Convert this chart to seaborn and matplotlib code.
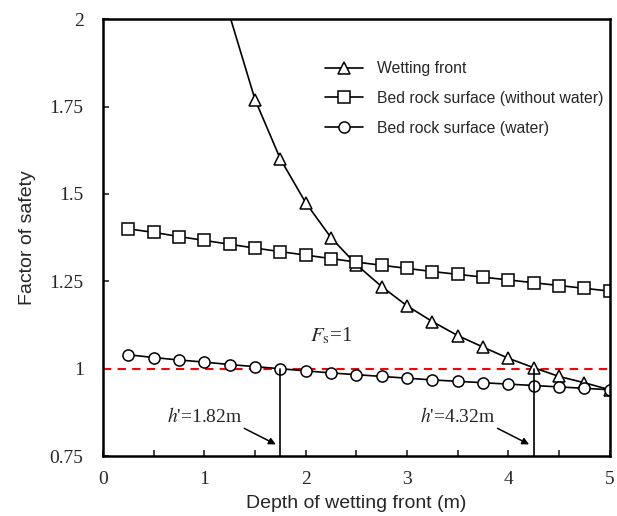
import numpy as np
import pandas as pd
import seaborn as sns
import matplotlib.pyplot as plt
from matplotlib.ticker import MultipleLocator

# depth of wetting front (m)
depth = [0.25, 0.5, 0.75, 1.0, 1.25, 1.5, 1.75, 2.0, 2.25, 2.5,
         2.75, 3.0, 3.25, 3.5, 3.75, 4.0, 4.25, 4.5, 4.75, 5.0]

# wetting front curve, the first point only continues the line above the axes
wet_depth = [1.25, 1.5, 1.75, 2.0, 2.25, 2.5, 2.75, 3.0, 3.25, 3.5,
             3.75, 4.0, 4.25, 4.5, 4.75, 5.0]
wet_fs = [2.01, 1.77, 1.60, 1.475, 1.375, 1.298, 1.235, 1.18, 1.135, 1.095,
          1.062, 1.03, 1.003, 0.978, 0.96, 0.94]

dry_fs = [1.40, 1.39, 1.378, 1.367, 1.356, 1.345, 1.335, 1.325, 1.315, 1.305,
          1.296, 1.287, 1.278, 1.27, 1.262, 1.254, 1.246, 1.238, 1.23, 1.222]

water_fs = [1.04, 1.032, 1.025, 1.019, 1.012, 1.006, 1.0, 0.994, 0.988, 0.983,
            0.978, 0.973, 0.968, 0.964, 0.96, 0.956, 0.952, 0.948, 0.944, 0.94]

crit_depth = [1.75, 4.25]
crit_text = ["1.82m", "4.32m"]

sns.set_style("white")
plt.rcParams['font.family'] = ['Liberation Sans', 'DejaVu Sans']
plt.rcParams['mathtext.fontset'] = 'stix'

fig = plt.figure(figsize=(6.17, 5.16), dpi=100)
ax = fig.add_axes([0.167, 0.116, 0.821, 0.847])

df_wet = pd.DataFrame({"depth": wet_depth, "fs": wet_fs})
df_dry = pd.DataFrame({"depth": depth, "fs": dry_fs})
df_water = pd.DataFrame({"depth": depth, "fs": water_fs})

style = dict(color="black", lw=1.2, ms=8, mfc="white", mec="black", mew=1.1)
sns.lineplot(data=df_wet, x="depth", y="fs", marker="^", ax=ax,
             markevery=list(range(1, len(wet_depth))),
             label="Wetting front", **style)
sns.lineplot(data=df_dry, x="depth", y="fs", marker="s", ax=ax,
             label="Bed rock surface (without water)", **style)
sns.lineplot(data=df_water, x="depth", y="fs", marker="o", ax=ax,
             label="Bed rock surface (water)", **style)

# Fs = 1 line
ax.axhline(1.0, color="red", ls=(0, (4, 3)), lw=1.5, zorder=1)

for d, t in zip(crit_depth, crit_text):
    ax.plot([d, d], [0.75, 1.0], color="black", lw=1.2)
    ax.annotate("", xy=(d - 0.02, 0.78), xytext=(d - 0.38, 0.833),
                arrowprops=dict(arrowstyle="-|>", color="black", lw=1.1,
                                mutation_scale=10))
    ax.text(d - 0.38, 0.864, r"$\mathit{h}$'=" + t, ha="right", va="center",
            fontsize=14, family="Liberation Serif")

ax.text(2.25, 1.093, r"$\mathit{F}_{\mathrm{s}}$=1", ha="center", va="center",
        fontsize=15, family="Liberation Serif")

ax.set_xlim(0, 5)
ax.set_ylim(0.75, 2)
ax.xaxis.set_major_locator(MultipleLocator(1))
ax.xaxis.set_minor_locator(MultipleLocator(0.5))
ax.set_yticks([0.75, 1, 1.25, 1.5, 1.75, 2])
ax.set_yticklabels(["0.75", "1", "1.25", "1.5", "1.75", "2"])
ax.tick_params(axis="both", which="both", direction="in", length=4, width=1.2,
               bottom=True, left=True, top=False, right=False, pad=14,
               labelsize=14)
ax.tick_params(axis="x", pad=11)
for lab in ax.get_xticklabels() + ax.get_yticklabels():
    lab.set_family("Liberation Serif")

for s in ax.spines.values():
    s.set_linewidth(1.8)
    s.set_color("black")

ax.set_xlabel("Depth of wetting front (m)", fontsize=14, labelpad=5)
ax.set_ylabel("Factor of safety", fontsize=14, labelpad=10)

ax.legend(loc="upper left", bbox_to_anchor=(0.438, 0.904), frameon=False,
          borderaxespad=0, borderpad=0, fontsize=11.3, handlelength=2.4,
          handletextpad=0.9, labelspacing=0.95)

fig.savefig("out.png", dpi=100)
